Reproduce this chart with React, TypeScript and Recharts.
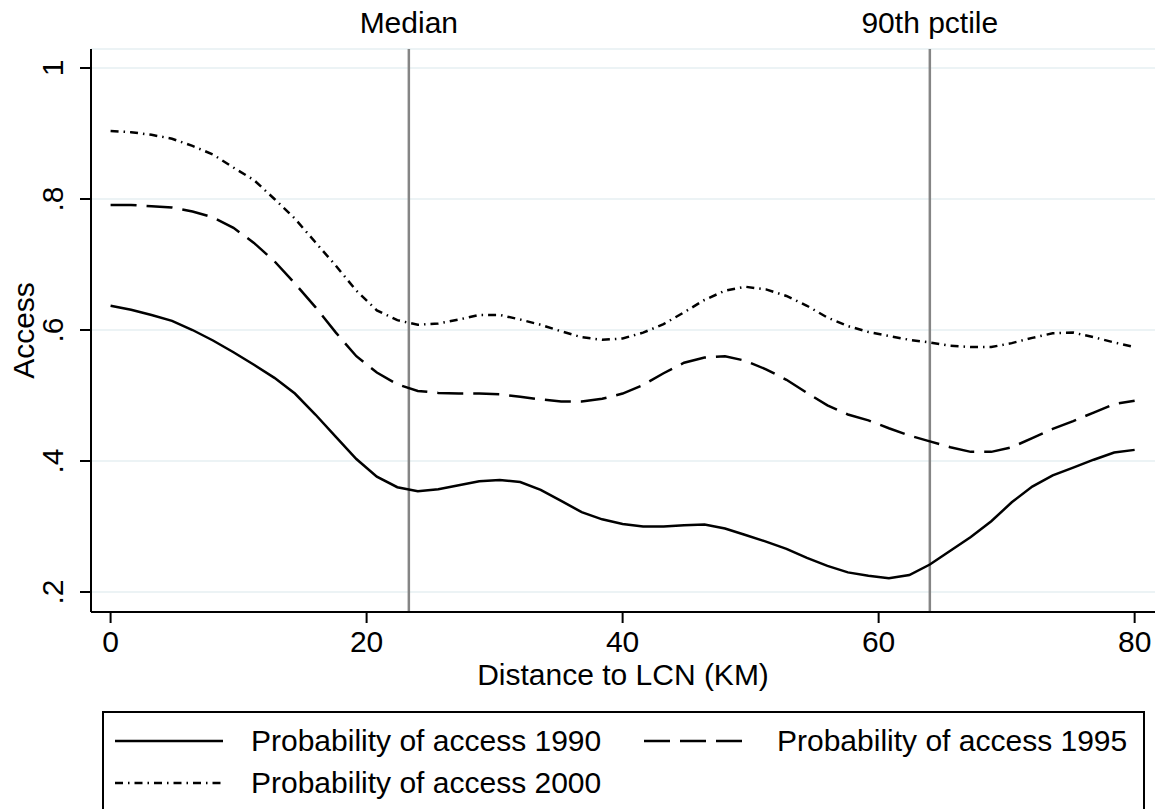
import React from "react";
import {
  LineChart,
  Line,
  XAxis,
  YAxis,
  CartesianGrid,
  ReferenceLine,
  Legend,
} from "recharts";

const FONT = "'Liberation Sans', Arial, Helvetica, sans-serif";

// distance to LCN in km, one point every 1.6 km
const distance = [
  0, 1.6, 3.2, 4.8, 6.4, 8.0, 9.6, 11.2, 12.8, 14.4, 16.0, 17.6, 19.2, 20.8,
  22.4, 24.0, 25.6, 27.2, 28.8, 30.4, 32.0, 33.6, 35.2, 36.8, 38.4, 40.0, 41.6,
  43.2, 44.8, 46.4, 48.0, 49.6, 51.2, 52.8, 54.4, 56.0, 57.6, 59.2, 60.8, 62.4,
  64.0, 65.6, 67.2, 68.8, 70.4, 72.0, 73.6, 75.2, 76.8, 78.4, 80.0,
];

const access1990 = [
  0.637, 0.631, 0.623, 0.614, 0.6, 0.584, 0.566, 0.547, 0.527, 0.503, 0.471,
  0.437, 0.403, 0.376, 0.36, 0.354, 0.357, 0.363, 0.369, 0.371, 0.368, 0.356,
  0.339, 0.322, 0.311, 0.304, 0.3, 0.3, 0.302, 0.303, 0.297, 0.287, 0.277,
  0.266, 0.252, 0.24, 0.23, 0.225, 0.221, 0.226, 0.242, 0.263, 0.284, 0.308,
  0.337, 0.361, 0.378, 0.39, 0.402, 0.413, 0.417,
];

const access1995 = [
  0.791, 0.791, 0.789, 0.787, 0.781, 0.772, 0.756, 0.733, 0.705, 0.671, 0.635,
  0.596, 0.56, 0.535, 0.517, 0.507, 0.504, 0.503, 0.503, 0.502, 0.498, 0.494,
  0.491, 0.491, 0.495, 0.503, 0.516, 0.534, 0.55, 0.558, 0.56, 0.553, 0.54,
  0.524, 0.504, 0.485, 0.471, 0.462, 0.45, 0.439, 0.43, 0.421, 0.414, 0.414,
  0.421, 0.435, 0.449, 0.461, 0.474, 0.487, 0.492,
];

const access2000 = [
  0.904, 0.902, 0.898, 0.892, 0.881, 0.868, 0.848, 0.829, 0.8, 0.77, 0.734,
  0.698, 0.66, 0.63, 0.615, 0.608, 0.61, 0.616, 0.623, 0.623, 0.616, 0.608,
  0.598, 0.589, 0.585, 0.587, 0.596, 0.609, 0.627, 0.646, 0.66, 0.666, 0.662,
  0.652, 0.637, 0.619, 0.606, 0.597, 0.591, 0.585, 0.581, 0.576, 0.574, 0.574,
  0.58, 0.588, 0.595, 0.596, 0.589, 0.581, 0.574,
];

const xTicks = [0, 20, 40, 60, 80];
const yTicks = [0.2, 0.4, 0.6, 0.8, 1];

const MEDIAN_KM = 23.3;
const P90_KM = 64.0;

const SERIES = [
  { key: "p1990", name: "Probability of access 1990", dash: undefined },
  { key: "p1995", name: "Probability of access 1995", dash: "26 10" },
  { key: "p2000", name: "Probability of access 2000", dash: "8 5 1.5 5" },
];

const rows = distance.map((d, i) => ({
  dist: d,
  p1990: access1990[i],
  p1995: access1995[i],
  p2000: access2000[i],
}));

const yFmt = (v: number) => (v === 1 ? "1" : String(v).replace(/^0/, ""));

function YTick(props: any) {
  const { x, y, payload } = props;
  return (
    <text
      transform={`translate(${x - 15},${y}) rotate(-90)`}
      textAnchor="middle"
      fontSize={30}
      fontFamily={FONT}
      fill="#000"
    >
      {yFmt(payload.value)}
    </text>
  );
}

function LegendBox(props: any) {
  const items = props.payload || [];
  const dashFor = (name: string) => SERIES.find((s) => s.name === name)?.dash;
  const cell = (item: any, left: number, top: number, sampleW: number) => (
    <div
      key={item.value}
      style={{ position: "absolute", left, top, display: "flex", alignItems: "center" }}
    >
      <svg width={sampleW} height={10} style={{ display: "block" }}>
        <line
          x1={0}
          x2={sampleW}
          y1={5}
          y2={5}
          stroke="#000"
          strokeWidth={2.5}
          strokeDasharray={dashFor(item.value)}
        />
      </svg>
      <span
        style={{
          marginLeft: 28,
          fontSize: 30,
          fontFamily: FONT,
          color: "#000",
          whiteSpace: "nowrap",
          lineHeight: "34px",
        }}
      >
        {item.value}
      </span>
    </div>
  );
  return (
    <div
      style={{
        position: "relative",
        width: 1043,
        height: 98,
        boxSizing: "border-box",
        borderTop: "2px solid #000",
        borderLeft: "2px solid #000",
        borderRight: "2px solid #000",
        background: "#fff",
      }}
    >
      {items[0] && cell(items[0], 11, 11, 108)}
      {items[1] && cell(items[1], 540, 11, 105)}
      {items[2] && cell(items[2], 11, 53, 108)}
    </div>
  );
}

export default function App() {
  return (
    <div style={{ position: "absolute", left: 0, top: 0, background: "#fff" }}>
      <LineChart
        width={1162}
        height={809}
        data={rows}
        margin={{ top: 49, right: 7, bottom: 0, left: 0 }}
        style={{ fontFamily: FONT }}
      >
        <CartesianGrid
          vertical={false}
          stroke="#e6eff2"
          strokeWidth={1.5}
        />
        <XAxis
          dataKey="dist"
          type="number"
          domain={[-1.53, 81.59]}
          ticks={xTicks}
          allowDataOverflow
          height={197}
          tickSize={11}
          tickMargin={8}
          tick={{ fill: "#000", fontSize: 30, fontFamily: FONT }}
          tickLine={{ stroke: "#000", strokeWidth: 2 }}
          axisLine={{ stroke: "#000", strokeWidth: 2 }}
          label={{
            content: (p: any) => {
              const vb = p.viewBox;
              return (
                <text
                  x={vb.x + vb.width / 2}
                  y={vb.y + 73}
                  textAnchor="middle"
                  fontSize={30}
                  fontFamily={FONT}
                  fill="#000"
                >
                  Distance to LCN (KM)
                </text>
              );
            },
          }}
        />
        <YAxis
          type="number"
          domain={[0.1695, 1.029]}
          ticks={yTicks}
          allowDataOverflow
          width={91}
          tickSize={11}
          tickMargin={2}
          tick={<YTick />}
          tickLine={{ stroke: "#000", strokeWidth: 2 }}
          axisLine={{ stroke: "#000", strokeWidth: 2 }}
          label={{
            content: (p: any) => {
              const vb = p.viewBox;
              const cy = vb.y + vb.height / 2;
              return (
                <text
                  transform={`translate(34,${cy}) rotate(-90)`}
                  textAnchor="middle"
                  fontSize={30}
                  fontFamily={FONT}
                  fill="#000"
                >
                  Access
                </text>
              );
            },
          }}
        />
        <ReferenceLine
          x={MEDIAN_KM}
          stroke="#858585"
          strokeWidth={2.5}
          label={{ value: "Median", position: "top", offset: 16, fill: "#000", fontSize: 30, fontFamily: FONT }}
        />
        <ReferenceLine
          x={P90_KM}
          stroke="#858585"
          strokeWidth={2.5}
          label={{ value: "90th pctile", position: "top", offset: 16, fill: "#000", fontSize: 30, fontFamily: FONT }}
        />
        {SERIES.map((s) => (
          <Line
            key={s.key}
            dataKey={s.key}
            name={s.name}
            type="linear"
            stroke="#000"
            strokeWidth={2.5}
            strokeDasharray={s.dash}
            dot={false}
            activeDot={false}
            isAnimationActive={false}
          />
        ))}
        <Legend
          layout="horizontal"
          verticalAlign="middle"
          align="center"
          content={<LegendBox />}
          wrapperStyle={{ left: 102, top: 711, width: 1043, height: 98 }}
        />
      </LineChart>
    </div>
  );
}
